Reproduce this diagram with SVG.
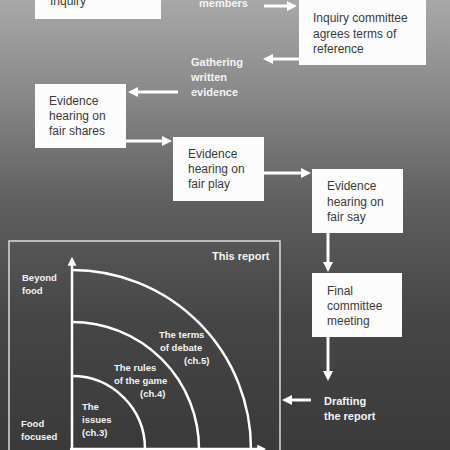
<svg xmlns="http://www.w3.org/2000/svg" width="450" height="450" viewBox="0 0 450 450">
<defs>
<linearGradient id="bg" x1="0" y1="0" x2="0" y2="1">
<stop offset="0" stop-color="#a8a8a8"/>
<stop offset="0.22" stop-color="#878787"/>
<stop offset="0.45" stop-color="#5f5f5f"/>
<stop offset="0.7" stop-color="#464646"/>
<stop offset="1" stop-color="#3a3a3a"/>
</linearGradient>
<marker id="ah" viewBox="0 0 10 10" markerWidth="10" markerHeight="11" refX="2" refY="5" orient="auto" markerUnits="userSpaceOnUse">
<path d="M0,0 L10,5 L0,10 z" fill="#ffffff"/>
</marker>
<marker id="ahs" viewBox="0 0 10 10" markerWidth="9" markerHeight="9" refX="2" refY="5" orient="auto" markerUnits="userSpaceOnUse">
<path d="M0,0 L10,5 L0,10 z" fill="#ffffff"/>
</marker>
<style>
.box{fill:#fcfcfc;}
.bt{font-family:"Liberation Sans",Arial,sans-serif;font-size:12px;fill:#3a3a3a;}
.wl{font-family:"Liberation Sans",Arial,sans-serif;font-size:11px;font-weight:bold;fill:#f4f4f4;}
.cl{font-family:"Liberation Sans",Arial,sans-serif;font-size:9.5px;font-weight:bold;fill:#f4f4f4;}
.con{stroke:#ffffff;stroke-width:3;fill:none;marker-end:url(#ah);}
.arc{stroke:#ffffff;stroke-width:2.5;fill:none;}
</style>
</defs>
<rect x="0" y="0" width="450" height="450" fill="url(#bg)"/>

<g id="node-inquiry">
<rect class="box" x="35" y="-5" width="126" height="24"/>
<text class="bt" x="50" y="5">Inquiry</text>
</g>
<g id="node-members">
<text class="wl" x="199" y="7">members</text>
</g>
<g id="node-committee">
<rect class="box" x="299" y="-5" width="127" height="70"/>
<text class="bt" x="313" y="22">Inquiry committee</text>
<text class="bt" x="313" y="37.5">agrees terms of</text>
<text class="bt" x="313" y="53">reference</text>
</g>
<g id="node-gathering">
<text class="wl" x="191" y="66">Gathering</text>
<text class="wl" x="191" y="81">written</text>
<text class="wl" x="191" y="96">evidence</text>
</g>
<g id="node-fair-shares">
<rect class="box" x="35" y="84" width="91" height="64"/>
<text class="bt" x="49" y="105">Evidence</text>
<text class="bt" x="49" y="120">hearing on</text>
<text class="bt" x="49" y="135">fair shares</text>
</g>
<g id="node-fair-play">
<rect class="box" x="173" y="137" width="91" height="64"/>
<text class="bt" x="188" y="158">Evidence</text>
<text class="bt" x="188" y="173">hearing on</text>
<text class="bt" x="188" y="188">fair play</text>
</g>
<g id="node-fair-say">
<rect class="box" x="312" y="169" width="91" height="64"/>
<text class="bt" x="327" y="190">Evidence</text>
<text class="bt" x="327" y="205.5">hearing on</text>
<text class="bt" x="327" y="221">fair say</text>
</g>
<g id="node-final">
<rect class="box" x="312" y="273" width="90" height="64"/>
<text class="bt" x="327" y="295">Final</text>
<text class="bt" x="327" y="310">committee</text>
<text class="bt" x="327" y="325">meeting</text>
</g>
<g id="node-drafting">
<text class="wl" x="324" y="405">Drafting</text>
<text class="wl" x="324" y="420">the report</text>
</g>

<g id="node-this-report">
<rect x="9" y="241" width="271" height="220" fill="none" stroke="#e6e6e6" stroke-width="1.4"/>
<text class="wl" x="212" y="260">This report</text>
<line x1="72" y1="452" x2="72" y2="264" stroke="#ffffff" stroke-width="2.5" marker-end="url(#ahs)"/>
<line x1="70" y1="449" x2="259" y2="449" stroke="#ffffff" stroke-width="2.5" marker-end="url(#ahs)"/>
<path class="arc" d="M72,376 A73,73 0 0 1 145,449"/>
<path class="arc" d="M72,322 A127,127 0 0 1 199,449"/>
<path class="arc" d="M72,270 A179,179 0 0 1 251,449"/>
<text class="cl" x="22" y="281">Beyond</text>
<text class="cl" x="22" y="294">food</text>
<text class="cl" x="21" y="427">Food</text>
<text class="cl" x="21" y="440">focused</text>
<text class="cl" x="82" y="410">The</text>
<text class="cl" x="82" y="423">issues</text>
<text class="cl" x="82" y="436">(ch.3)</text>
<text class="cl" x="114" y="371">The rules</text>
<text class="cl" x="114" y="384">of the game</text>
<text class="cl" x="140" y="397">(ch.4)</text>
<text class="cl" x="159" y="338">The terms</text>
<text class="cl" x="160" y="351">of debate</text>
<text class="cl" x="184" y="364">(ch.5)</text>
</g>

<g id="connectors">
<line class="con" x1="264" y1="6" x2="289" y2="6"/>
<line class="con" x1="299" y1="59" x2="271" y2="59"/>
<line class="con" x1="178" y1="92" x2="136" y2="92"/>
<line class="con" x1="126" y1="141" x2="164" y2="141"/>
<line class="con" x1="264" y1="173" x2="303" y2="173"/>
<line class="con" x1="328" y1="233" x2="328" y2="264"/>
<line class="con" x1="328" y1="337" x2="328" y2="373"/>
<line class="con" x1="311" y1="400" x2="290" y2="400"/>
</g>
</svg>
